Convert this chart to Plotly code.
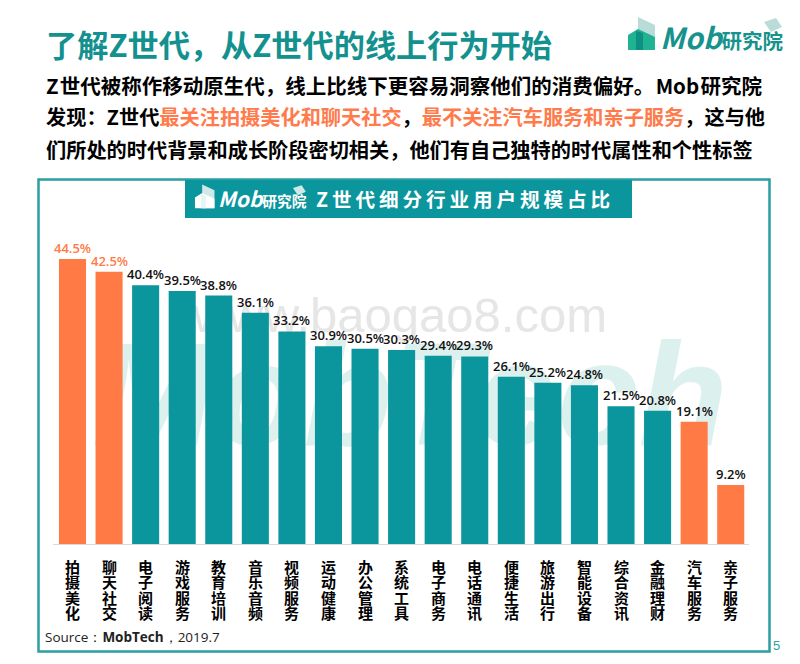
"""Z世代细分行业用户规模占比 - slide recreated with Plotly."""
import plotly.graph_objects as go

categories = ["拍摄美化", "聊天社交", "电子阅读", "游戏服务", "教育培训", "音乐音频", "视频服务",
              "运动健康", "办公管理", "系统工具", "电子商务", "电话通讯", "便捷生活", "旅游出行",
              "智能设备", "综合资讯", "金融理财", "汽车服务", "亲子服务"]
share = [44.5, 42.5, 40.4, 39.5, 38.8, 36.1, 33.2, 30.9, 30.5, 30.3, 29.4, 29.3, 26.1, 25.2,
         24.8, 21.5, 20.8, 19.1, 9.2]
highlighted = ["拍摄美化", "聊天社交", "汽车服务", "亲子服务"]
labelled_orange = ["拍摄美化", "聊天社交"]

W, H = 800, 664
TEAL = "#0b959d"
ORANGE = "#ff7a45"
BORDER = "#2b9fa3"
CJK = "Noto Sans CJK SC"
NUM = "Open Sans"


def px(x):
    return x / W


def py(y):
    return 1 - y / H


def poly(points):
    """SVG path in paper coordinates from page pixels."""
    return "M" + " L".join(f"{px(x):.4f} {py(y):.4f}" for x, y in points) + " Z"


def text(fig, x, y, s, size, color="#000000", bold=False, family=CJK, anchor="left"):
    fig.add_annotation(xref="paper", yref="paper", x=px(x), y=py(y), text=f"<b>{s}</b>" if bold else s,
                       showarrow=False, xanchor=anchor, yanchor="middle", borderpad=0,
                       font=dict(family=family, size=size, color=color))


def logo(fig, x0, y0, k, back, front, dark, word):
    # small building + graduation cap, drawn in page pixels from the top logo
    parts = [
        ([(10, 2), (27, 10), (27, 35), (10, 35)], back),
        ([(0, 20), (10, 14), (27, 22), (27, 35), (0, 35)], front),
        ([(8, 16), (15, 18), (15, 35), (8, 35)], dark),
        ([(136, 7), (148, 3), (154, 12), (143, 17)], back),
    ]
    for pts, col in parts:
        fig.add_shape(type="path", xref="paper", yref="paper", layer="above", line_width=0, fillcolor=col,
                      path=poly([(x0 + a * k, y0 + b * k) for a, b in pts]))
    mob = f"<i style='font-size:{29 * k:.1f}px'>Mob</i>"
    fig.add_annotation(xref="paper", yref="paper", x=px(x0 + 31 * k), y=py(y0 + 21 * k),
                       text=f"<b><span style='font-size:{29 * k:.1f}px'><i>Mob</i></span>研究院</b>",
                       showarrow=False, xanchor="left", yanchor="middle", borderpad=0,
                       font=dict(family=CJK, size=20.5 * k, color=word))


fig = go.Figure(go.Bar(
    x=categories, y=share,
    marker=dict(color=[ORANGE if c in highlighted else TEAL for c in categories], line_width=0),
    width=0.74, hoverinfo="x+y", showlegend=False,
))

fig.update_layout(
    width=W, height=H, autosize=False, paper_bgcolor="white", plot_bgcolor="rgba(0,0,0,0)",
    margin=dict(l=0, r=0, t=0, b=0), bargap=0.26,
    xaxis=dict(domain=[px(53), px(749)], showticklabels=False, ticks="", showgrid=False,
               showline=True, linecolor="#d9d9d9", linewidth=1, zeroline=False),
    yaxis=dict(domain=[py(544), py(236)], range=[0, 48.1], visible=False, showgrid=False),
)

# panel + header band
fig.add_shape(type="rect", xref="paper", yref="paper", layer="below", x0=px(38.5), x1=px(769.5), y0=py(651.5), y1=py(179.5),
              line=dict(color=BORDER, width=2.5), fillcolor="white")
# watermarks sit behind the bars, so they go in below-layer shape labels
fig.add_shape(type="rect", xref="paper", yref="paper", layer="below", x0=px(60), x1=px(760), y0=py(450), y1=py(310),
              line_width=0, fillcolor="rgba(0,0,0,0)",
              label=dict(text="<b><i>MobTech</i></b>", textposition="middle center",
                         font=dict(family="Liberation Sans", size=146, color="#dcf0ee")))
fig.add_shape(type="rect", xref="paper", yref="paper", layer="below", x0=px(180), x1=px(620), y0=py(340), y1=py(280),
              line_width=0, fillcolor="rgba(0,0,0,0)",
              label=dict(text="www.baogao8.com", textposition="middle center",
                         font=dict(family="Liberation Sans", size=49, color="#e6e6e6")))
fig.add_shape(type="rect", xref="paper", yref="paper", layer="above", x0=px(185), x1=px(632), y0=py(218), y1=py(180),
              line_width=0, fillcolor=TEAL)

# slide heading and intro copy
text(fig, 45, 43, "了解Z世代，从Z世代的线上行为开始", 31.2, color="#13918f", bold=True)
text(fig, 45, 85, "Z\u200a世代被称作移动原生代，线上比线下更容易洞察他们的消费偏好。\u200aMob\u200a研究院", 20.5, bold=True)
o = "#ff7b4c"
text(fig, 45, 117, f"发现：Z世代<span style='color:{o}'>最关注拍摄美化和聊天社交</span>，"
                   f"<span style='color:{o}'>最不关注汽车服务和亲子服务</span>，这与他", 20.2, bold=True)
text(fig, 45, 149, "们所处的时代背景和成长阶段密切相关，他们有自己独特的时代属性和个性标签", 20.2, bold=True)

logo(fig, 628, 15, 1.0, "#b9dcd8", "#1fb394", "#0d8f82", "#15938c")
logo(fig, 195, 183, 0.72, "#cfe9e8", "#ffffff", "#e6f4f4", "#ffffff")
text(fig, 315, 199, "\u2009".join("Z世代细分行业用户规模占比"), 19.6, color="white", bold=True)

# value labels just above each bar
for c, v in zip(categories, share):
    fig.add_annotation(x=c, y=v, text=f"{v}%", showarrow=False, yanchor="bottom", yshift=1, borderpad=0,
                       font=dict(family=NUM, size=13, weight=600,
                                 color=ORANGE if c in labelled_orange else "#111111"))

# stacked vertical category labels, one character per line
for c in categories:
    for i, ch in enumerate(c):
        fig.add_annotation(x=c, xref="x", yref="paper", y=py(566 + i * 15.6), text=f"<b>{ch}</b>", showarrow=False,
                           yanchor="middle", borderpad=0, font=dict(family=CJK, size=15, color="#000000"))

text(fig, 44, 637, "Source：<b>MobTech</b>，2019.7", 13.5, color="#222222", family=NUM)
text(fig, 772, 645, "5", 13, color=BORDER, family="Liberation Sans")

fig.write_html("out.html", config=dict(displayModeBar=False),
               post_script="document.body.style.margin='0';document.body.style.overflow='hidden';")
